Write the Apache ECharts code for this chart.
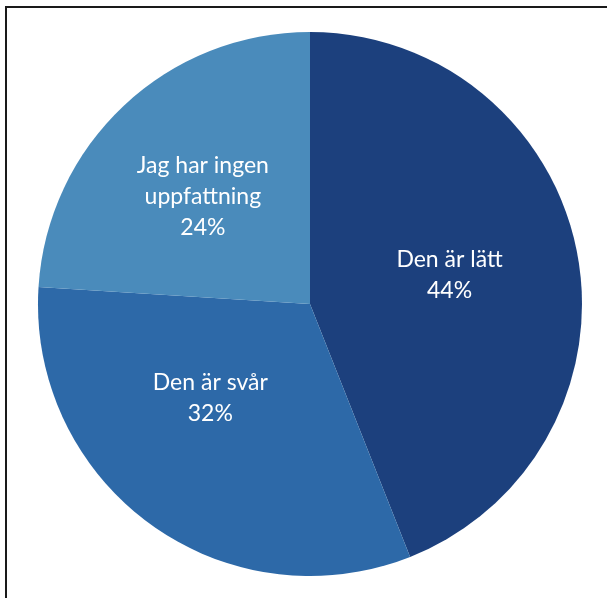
<!DOCTYPE html>
<html>
<head>
<meta charset="utf-8">
<script src="https://cdn.jsdelivr.net/npm/echarts@6/dist/echarts.min.js"></script>
<style>
  html, body { margin: 0; padding: 0; background: #fff; overflow: hidden; }
  #frame { position: absolute; left: 5px; top: 6px; width: 700px; height: 700px;
           border-left: 2px solid #1a1a1a; border-top: 2px solid #1a1a1a; }
  #main { position: absolute; left: 0; top: 0; width: 607px; height: 598px; }
</style>
</head>
<body>
<div id="frame"></div>
<div id="main"></div>
<script>
  // svar på frågan, andel i procent
  var categories = ['Den är lätt', 'Den är svår', 'Jag har ingen\nuppfattning'];
  var values = [44, 32, 24];
  var colors = ['#1c407d', '#2d69a8', '#4a8bbb'];
  var labelOffsets = [[3, -3], [-18, -18], [-12, -6]];

  var pieData = [];
  for (var i = 0; i < categories.length; i++) {
    pieData.push({
      name: categories[i],
      value: values[i],
      itemStyle: { color: colors[i] },
      label: { offset: labelOffsets[i] }
    });
  }

  var myChart = echarts.init(document.getElementById('main'));
  var option = {
    animation: false,
    series: [
      {
        type: 'pie',
        center: [310, 304],
        radius: [0, 272],
        startAngle: 90,
        clockwise: true,
        data: pieData,
        itemStyle: { borderWidth: 0 },
        label: {
          position: 'inside',
          formatter: '{b}\n{c}%',
          color: '#fff',
          fontFamily: 'Lato',
          fontSize: 23,
          lineHeight: 31
        },
        labelLine: { show: false },
        emphasis: { disabled: true }
      }
    ]
  };
  myChart.setOption(option);
</script>
</body>
</html>
